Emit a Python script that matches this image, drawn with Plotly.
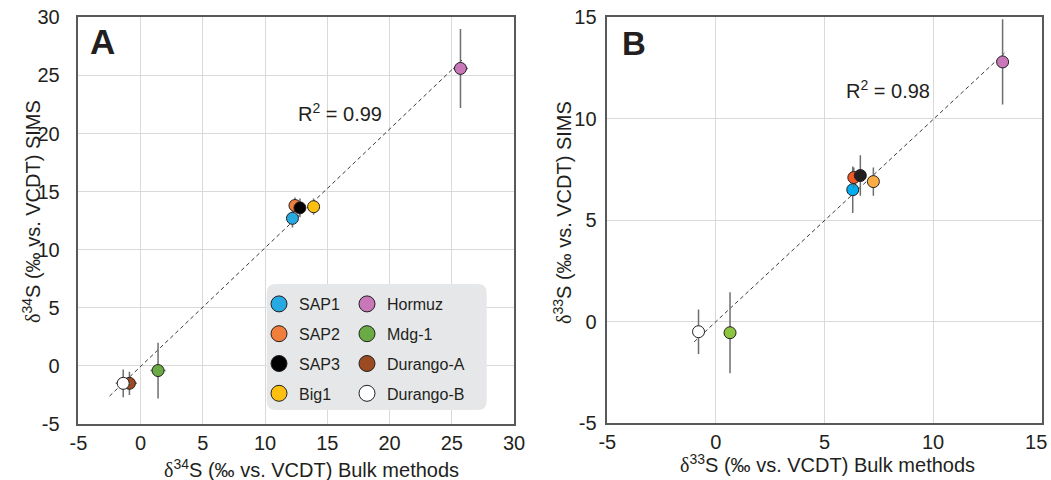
import plotly.graph_objects as go

W, H = 1051, 480

samples = ["SAP1", "SAP2", "SAP3", "Big1", "Hormuz", "Mdg-1", "Durango-A", "Durango-B"]
colors_A = ["#27aae1", "#f07f3c", "#000000", "#fdc010", "#c878b8", "#6aab45", "#9b4a22", "#ffffff"]
colors_B = ["#00aeef", "#ef5a24", "#231f20", "#fbad45", "#c878b8", "#8cc63f", "#9b4a22", "#ffffff"]

# Panel A: delta34S
bulk34 = [12.2, 12.4, 12.8, 13.9, 25.7, 1.4, -0.9, -1.4]
sims34 = [12.7, 13.8, 13.6, 13.7, 25.6, -0.4, -1.5, -1.5]
err34 = [0.8, 0.7, 0.8, 0.7, 3.4, 2.4, 1.0, 1.2]
xerr34 = [0.3, 0.3, 0.3, 0.3, 0.6, 0.6, 0.6, 0.6]
fitA_x = [-2.5, 26.0]
fitA_y = [-2.6, 26.5]

# Panel B: delta33S (no Durango-A value)
bulk33 = [6.3, 6.35, 6.65, 7.25, 13.2, 0.65, None, -0.8]
sims33 = [6.5, 7.1, 7.2, 6.9, 12.8, -0.55, None, -0.5]
err33 = [1.15, 0.5, 1.0, 0.7, 2.1, 2.0, None, 1.1]
fitB_x = [-1.0, 13.4]
fitB_y = [-1.0, 13.35]

ticks_A = [-5, 0, 5, 10, 15, 20, 25, 30]
ticks_B = [-5, 0, 5, 10, 15]
ticktext_Bx = ["-5", "0", "5", "10", "15\u00a0\u00a0"]

FONT = "Liberation Sans, Arial, sans-serif"
TXT = "#231f20"


def px(x):
    return x / W


def py(y):
    return 1 - y / H


fig = go.Figure()

# regression lines
fig.add_trace(go.Scatter(x=fitA_x, y=fitA_y, mode="lines", xaxis="x", yaxis="y",
                         line=dict(color="#3a3a3a", width=1, dash="4px,3px"),
                         showlegend=False, hoverinfo="skip"))
fig.add_trace(go.Scatter(x=fitB_x, y=fitB_y, mode="lines", xaxis="x2", yaxis="y2",
                         line=dict(color="#3a3a3a", width=1, dash="4px,3px"),
                         showlegend=False, hoverinfo="skip"))

for i, name in enumerate(samples):
    fig.add_trace(go.Scatter(
        x=[bulk34[i]], y=[sims34[i]], mode="markers", xaxis="x", yaxis="y", name=name,
        marker=dict(size=12, color=colors_A[i], line=dict(color="#231f20", width=1)),
        error_y=dict(type="data", array=[err34[i]], color="#6d6e71", thickness=1.5, width=0),
        error_x=dict(type="data", array=[xerr34[i]], color="#6d6e71", thickness=1.5, width=0),
        showlegend=False))
    if bulk33[i] is not None:
        fig.add_trace(go.Scatter(
            x=[bulk33[i]], y=[sims33[i]], mode="markers", xaxis="x2", yaxis="y2", name=name,
            marker=dict(size=12, color=colors_B[i], line=dict(color="#231f20", width=1)),
            error_y=dict(type="data", array=[err33[i]], color="#6d6e71", thickness=1.5, width=0),
            showlegend=False))

# legend entries
for i, name in enumerate(samples):
    fig.add_trace(go.Scatter(
        x=[None], y=[None], mode="markers", xaxis="x", yaxis="y", name=name,
        legend="legend" if i < 4 else "legend2", legendgroup=name,
        marker=dict(size=16, color=colors_A[i], line=dict(color="#231f20", width=1))))

axis_common = dict(showline=True, linecolor="#58595b", linewidth=1.5, mirror=True,
                   showgrid=True, gridcolor="#d9d9d9", gridwidth=1, zeroline=False,
                   ticks="", automargin=False, ticklabeloverflow="allow",
                   tickfont=dict(size=20, color=TXT, family=FONT))

fig.update_layout(
    width=W, height=H,
    margin=dict(l=0, r=0, t=0, b=0, autoexpand=False),
    paper_bgcolor="white", plot_bgcolor="white",
    font=dict(family=FONT, color=TXT),
    xaxis=dict(domain=[px(78.4), px(514)], range=[-5, 30], tickvals=ticks_A,
               ticktext=[str(t) for t in ticks_A], anchor="y", ticklabelstandoff=0, **axis_common),
    yaxis=dict(domain=[py(424), py(17.3)], range=[-5, 30], tickvals=ticks_A,
               ticktext=[str(t) for t in ticks_A], anchor="x", ticklabelstandoff=13, **axis_common),
    xaxis2=dict(domain=[px(607.3), px(1041.7)], range=[-5, 15], tickvals=ticks_B,
                ticktext=ticktext_Bx, anchor="y2", ticklabelstandoff=0, **axis_common),
    yaxis2=dict(domain=[py(423), py(17.3)], range=[-5, 15], tickvals=ticks_B,
                ticktext=[str(t) for t in ticks_B], anchor="x2", ticklabelstandoff=5, **axis_common),
    legend=dict(x=px(259), y=py(287), xanchor="left", yanchor="top", bgcolor="rgba(0,0,0,0)",
                font=dict(size=16, family=FONT, color=TXT), tracegroupgap=6, itemclick=False),
    legend2=dict(x=px(347), y=py(287), xanchor="left", yanchor="top", bgcolor="rgba(0,0,0,0)",
                 font=dict(size=16, family=FONT, color=TXT), tracegroupgap=6, itemclick=False),
)

# rounded legend background
x0, x1, y0, y1, r = 266.7, 486.7, 284, 410, 9
path = (f"M {px(x0 + r)} {py(y0)} L {px(x1 - r)} {py(y0)} Q {px(x1)} {py(y0)} {px(x1)} {py(y0 + r)} "
        f"L {px(x1)} {py(y1 - r)} Q {px(x1)} {py(y1)} {px(x1 - r)} {py(y1)} "
        f"L {px(x0 + r)} {py(y1)} Q {px(x0)} {py(y1)} {px(x0)} {py(y1 - r)} "
        f"L {px(x0)} {py(y0 + r)} Q {px(x0)} {py(y0)} {px(x0 + r)} {py(y0)} Z")
fig.add_shape(type="path", path=path, xref="paper", yref="paper",
              fillcolor="#e6e7e8", line=dict(width=0), layer="above")

DELTA = '<span style="font-family:Liberation Serif, Times New Roman, serif">δ</span>'

ann = [
    dict(x=px(88), y=py(41), text="<b>A</b>", xanchor="left", yanchor="middle", font=dict(size=35)),
    dict(x=px(620), y=py(43.5), text="<b>B</b>", xanchor="left", yanchor="middle", font=dict(size=33)),
    dict(x=px(340), y=py(112), text="R<sup>2</sup> = 0.99", font=dict(size=20)),
    dict(x=px(887.5), y=py(89), text="R<sup>2</sup> = 0.98", font=dict(size=20)),
    dict(x=px(311.7), y=py(468), text=DELTA + "<sup>34</sup>S (‰ vs. VCDT) Bulk methods", font=dict(size=20)),
    dict(x=px(827.5), y=py(463), text=DELTA + "<sup>33</sup>S (‰ vs. VCDT) Bulk methods", font=dict(size=20)),
    dict(x=px(31), y=py(212), text=DELTA + "<sup>34</sup>S (‰ vs. VCDT) SIMS", textangle=-90, font=dict(size=20)),
    dict(x=px(562), y=py(213), text=DELTA + "<sup>33</sup>S (‰ vs. VCDT) SIMS", textangle=-90, font=dict(size=20)),
]
for a in ann:
    a.update(xref="paper", yref="paper", showarrow=False)
    a.setdefault("xanchor", "center")
    a.setdefault("yanchor", "middle")
    a["font"] = dict(family=FONT, color=TXT, **a["font"])
    fig.add_annotation(**a)

fig.write_html("out.html")
